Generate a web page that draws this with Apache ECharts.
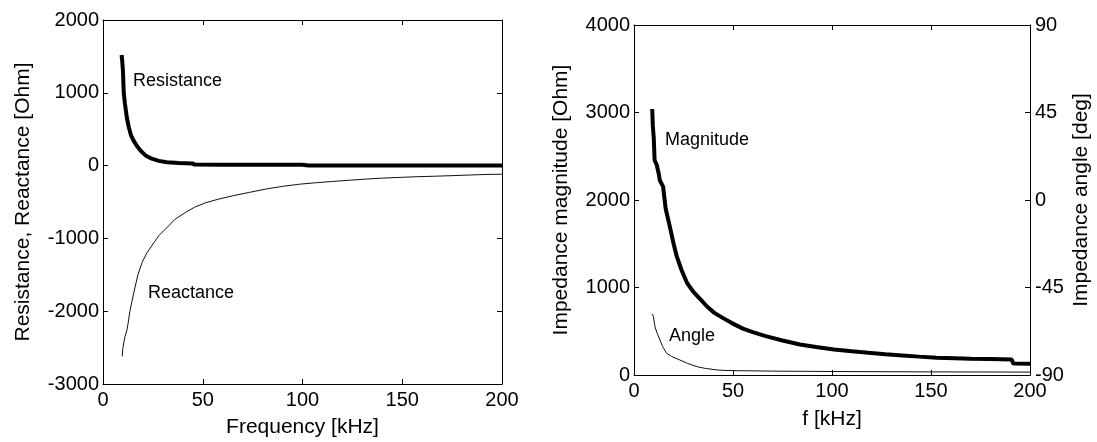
<!DOCTYPE html>
<html>
<head>
<meta charset="utf-8">
<script src="https://cdn.jsdelivr.net/npm/echarts@6/dist/echarts.min.js"></script>
<style>
html,body{margin:0;padding:0;background:#fff;}
#chart{width:1097px;height:442px;}
</style>
</head>
<body>
<div id="chart"></div>
<script>
// ---- Data ----
// Left panel: Resistance / Reactance vs frequency [kHz]
const resFreq = [9.3, 9.6, 10.0, 10.4, 11.0, 12.0, 13.0, 14.0, 15.4, 17.0, 19.0, 21.3, 24.0, 28.0, 32.0, 38.0, 44.8, 46.0, 60.0, 80.0, 100.0, 103.0, 150.0, 200.0];
const resVal  = [1520, 1450, 1300, 1000, 850, 650, 520, 420, 340, 270, 200, 140, 100, 65, 45, 35, 30, 14, 12, 12, 12, 2, 0, 0];

const reacFreq = [9.6, 10.0, 11.0, 12.1, 13.5, 15.4, 17.5, 19.6, 22.0, 25.5, 28.0, 31.4, 36.0, 41.5, 46.0, 51.5, 58.0, 65.0, 73.0, 82.0, 90.0, 98.6, 107.0, 115.0, 124.0, 132.0, 140.0, 149.0, 157.0, 166.0, 175.0, 183.0, 192.0, 200.0];
const reacVal  = [-2620, -2500, -2350, -2250, -2000, -1750, -1500, -1330, -1200, -1060, -960, -870, -740, -640, -570, -510, -460, -415, -370, -320, -285, -255, -235, -218, -200, -185, -172, -162, -153, -146, -138, -130, -122, -118];

// Right panel: impedance magnitude [Ohm] and angle [deg] vs f [kHz]
const magFreq = [9.2, 9.5, 10.0, 10.4, 11.5, 12.5, 13.0, 14.7, 16.0, 18.1, 20.0, 21.6, 24.0, 26.8, 30.0, 33.7, 37.0, 40.6, 45.0, 49.2, 55.0, 60.0, 66.5, 75.0, 83.8, 92.0, 101.0, 110.0, 118.3, 127.0, 135.6, 144.0, 152.8, 162.0, 170.0, 180.0, 190.8, 191.5, 200.0];
const magVal  = [3040, 2850, 2700, 2455, 2400, 2300, 2228, 2152, 1900, 1696, 1500, 1355, 1200, 1051, 950, 861, 780, 710, 650, 596, 530, 490, 444, 395, 349, 320, 292, 272, 254, 238, 224, 210, 197, 192, 186, 182, 176, 130, 128];

const angFreq = [9.3, 9.8, 10.6, 11.5, 13.1, 14.5, 16.5, 19.0, 23.2, 27.0, 31.7, 36.0, 41.8, 47.0, 53.5, 70.0, 100.0, 150.0, 200.0];
const angVal  = [-58.6, -60.0, -65.2, -68.0, -72.0, -75.5, -78.8, -80.5, -82.3, -84.0, -85.7, -86.6, -87.4, -87.7, -87.8, -88.0, -88.2, -88.4, -88.5];

// Curve annotations
const curveLabels = ['Resistance', 'Reactance', 'Magnitude', 'Angle'];
// Axis titles
const leftXTitle = 'Frequency [kHz]';
const leftYTitle = 'Resistance, Reactance [Ohm]';
const rightXTitle = 'f [kHz]';
const rightYTitle = 'Impedance magnitude [Ohm]';
const rightY2Title = 'Impedance angle [deg]';

const zip = (xs, ys) => xs.map((x, i) => [x, ys[i]]);

const FONT = '"Liberation Sans", Arial, Helvetica, sans-serif';
const plain = (v) => String(v);
const tickLabel = (extra) => Object.assign({ color: '#000', fontSize: 20, fontFamily: FONT, formatter: plain }, extra || {});
const axLine = { show: true, onZero: false, lineStyle: { color: '#000', width: 1 } };
const tickIn = { show: true, inside: true, length: 5, lineStyle: { color: '#000', width: 1 } };
const nameStyle = { color: '#000', fontSize: 21, fontFamily: FONT };

const chart = echarts.init(document.getElementById('chart'), null, { renderer: 'canvas' });

const option = {
  backgroundColor: '#fff',
  animation: false,
  grid: [
    { left: 103, right: 595, top: 20, bottom: 58, outerBoundsMode: 'none', containLabel: false },
    { left: 634, right: 67, top: 25, bottom: 67, outerBoundsMode: 'none', containLabel: false }
  ],
  xAxis: [
    { type: 'value', gridIndex: 0, min: 0, max: 200, interval: 50, position: 'bottom',
      axisLine: axLine, axisTick: tickIn, splitLine: { show: false },
      axisLabel: tickLabel({ margin: 6 }),
      name: leftXTitle, nameLocation: 'middle', nameGap: 33, nameTextStyle: nameStyle },
    { type: 'value', gridIndex: 0, min: 0, max: 200, interval: 50, position: 'top',
      axisLine: axLine, axisTick: tickIn, splitLine: { show: false }, axisLabel: { show: false } },
    { type: 'value', gridIndex: 1, min: 0, max: 200, interval: 50, position: 'bottom',
      axisLine: axLine, axisTick: tickIn, splitLine: { show: false },
      axisLabel: tickLabel({ margin: 6 }),
      name: rightXTitle, nameLocation: 'middle', nameGap: 34, nameTextStyle: nameStyle },
    { type: 'value', gridIndex: 1, min: 0, max: 200, interval: 50, position: 'top',
      axisLine: axLine, axisTick: tickIn, splitLine: { show: false }, axisLabel: { show: false } }
  ],
  yAxis: [
    { type: 'value', gridIndex: 0, min: -3000, max: 2000, interval: 1000, position: 'left',
      axisLine: axLine, axisTick: tickIn, splitLine: { show: false },
      axisLabel: tickLabel({ margin: 4 }),
      name: leftYTitle, nameLocation: 'middle', nameGap: 69, nameTextStyle: nameStyle },
    { type: 'value', gridIndex: 0, min: -3000, max: 2000, interval: 1000, position: 'right',
      axisLine: axLine, axisTick: tickIn, splitLine: { show: false }, axisLabel: { show: false } },
    { type: 'value', gridIndex: 1, min: 0, max: 4000, interval: 1000, position: 'left',
      axisLine: axLine, axisTick: tickIn, splitLine: { show: false },
      axisLabel: tickLabel({ margin: 4 }),
      name: rightYTitle, nameLocation: 'middle', nameGap: 62, nameTextStyle: nameStyle },
    { type: 'value', gridIndex: 1, min: -90, max: 90, interval: 45, position: 'right',
      axisLine: axLine, axisTick: tickIn, splitLine: { show: false },
      axisLabel: tickLabel({ margin: 5 }),
      name: rightY2Title, nameLocation: 'middle', nameGap: 41, nameTextStyle: nameStyle }
  ],
  series: [
    { name: 'Resistance', type: 'line', xAxisIndex: 0, yAxisIndex: 0, data: zip(resFreq, resVal),
      showSymbol: false, lineStyle: { color: '#000', width: 4 }, z: 3 },
    { name: 'Reactance', type: 'line', xAxisIndex: 0, yAxisIndex: 0, data: zip(reacFreq, reacVal),
      showSymbol: false, lineStyle: { color: '#111', width: 1 }, z: 3 },
    { name: 'Magnitude', type: 'line', xAxisIndex: 2, yAxisIndex: 2, data: zip(magFreq, magVal),
      showSymbol: false, lineStyle: { color: '#000', width: 4 }, z: 3 },
    { name: 'Angle', type: 'line', xAxisIndex: 2, yAxisIndex: 3, data: zip(angFreq, angVal),
      showSymbol: false, lineStyle: { color: '#111', width: 1 }, z: 3 }
  ],
  graphic: [
    { type: 'text', left: 133, top: 72, style: { text: curveLabels[0], fill: '#000', font: '18px ' + FONT } },
    { type: 'text', left: 148, top: 284, style: { text: curveLabels[1], fill: '#000', font: '18px ' + FONT } },
    { type: 'text', left: 665, top: 131, style: { text: curveLabels[2], fill: '#000', font: '18px ' + FONT } },
    { type: 'text', left: 669, top: 327, style: { text: curveLabels[3], fill: '#000', font: '18px ' + FONT } }
  ]
};
chart.setOption(option);
</script>
</body>
</html>
